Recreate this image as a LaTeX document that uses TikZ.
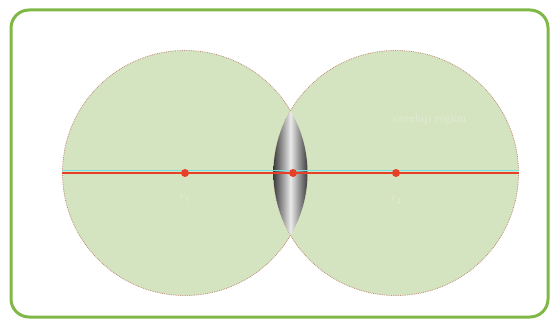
\documentclass[tikz,border=0pt]{standalone}
\usepackage{tikz}
\usetikzlibrary{positioning}
\definecolor{framegreen}{RGB}{128,184,72}
\definecolor{cellfill}{RGB}{213,228,192}
\definecolor{celledge}{RGB}{190,140,120}
\definecolor{axisred}{RGB}{232,64,40}
\definecolor{axiscyan}{RGB}{110,225,225}
\definecolor{faintlabel}{RGB}{228,236,216}
\begin{document}
\begin{tikzpicture}[x=1pt,y=-1pt,
  cell/.style={circle,draw=celledge,line width=0.8pt,densely dotted,fill=cellfill,minimum size=245pt,inner sep=0pt},
  centre/.style={circle,fill=axisred,inner sep=0pt,minimum size=8pt},
  faint/.style={font=\large,text=faintlabel}]
\useasboundingbox (0,0) rectangle (559,326);
\draw[framegreen,line width=3pt,rounded corners=18pt,fill=white] (11,10) rectangle (548,317);
\node[cell] (c1) at (185,173) {};
\node[cell] (c2) at (396,173) {};
% overlap lens
\begin{scope}
\clip (185,173) circle (122.5);
\clip (396,173) circle (122.5);
\shade[left color=black!90,right color=black!90,middle color=black!8] (270,105) rectangle (311,242);
\end{scope}
\coordinate (la) at ([yshift=2.5pt]c1.west);
\coordinate (lb) at ([yshift=2.5pt]c2.east);
\draw[axiscyan,line width=1.5pt] (la) -- (lb);
\draw[axisred,line width=2pt] (c1.west) -- (c2.east);
\node[centre] (p1) at (185,173) {};
\node[centre] (p2) at (396,173) {};
\node[centre] (pm) at (293,173) {};
\node[faint,below=14pt of p1] {$r_1$};
\node[faint,below=16pt of p2] {$r_2$};
\node[faint] (ov) at (430,120) {overlap region};
\end{tikzpicture}
\end{document}
